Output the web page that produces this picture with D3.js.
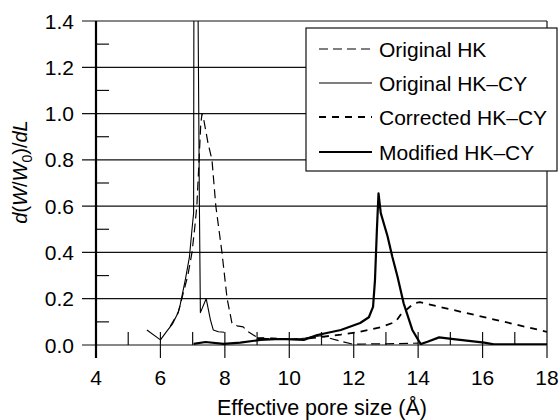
<!DOCTYPE html>
<html>
<head>
<meta charset="utf-8">
<script src="https://d3js.org/d3.v7.min.js"></script>
<style>
body{margin:0;background:#fff;}
text{font-family:"Liberation Sans",Arial,Helvetica,sans-serif;fill:#000;}
path.series{fill:none;stroke:#000;}
</style>
</head>
<body>
<svg class="chart"></svg>
<script>
// data: [pore size (Å), d(W/W0)/dL]
let origHK = [[6.3,0.08],[6.55,0.14],[6.7,0.22],[6.85,0.3],[6.98,0.4],[7.06,0.5],[7.13,0.6],[7.2,0.8],[7.25,0.95],[7.29,1.0],[7.35,0.97],[7.48,0.87],[7.6,0.8],[7.72,0.6],[7.91,0.4],[8.07,0.2],[8.22,0.095],[8.38,0.083],[8.57,0.078],[8.7,0.06],[8.86,0.045],[9.04,0.03],[9.5,0.025],[10.0,0.025],[10.5,0.03],[10.97,0.04],[11.5,0.02],[11.96,0.004],[13,0.005],[14,0.008]]
let origHKCY = [[5.58,0.065],[6.0,0.022],[6.2,0.06],[6.37,0.09],[6.55,0.14],[6.6,0.165],[6.77,0.28],[6.9,0.38],[6.98,0.5],[7.03,0.57],[7.04,1.6],[7.16,1.6],[7.21,0.6],[7.24,0.14],[7.42,0.2],[7.55,0.11],[7.64,0.065],[7.8,0.057],[7.98,0.055]]
let corrHKCY = [[9.0,0.03],[9.5,0.028],[10.0,0.025],[10.35,0.025],[11.0,0.035],[11.6,0.045],[12.2,0.057],[12.84,0.077],[13.3,0.1],[13.45,0.13],[13.87,0.18],[14.05,0.185],[18,0.057]]
let modHKCY = [[7.03,0.005],[7.4,0.013],[7.96,0.005],[8.48,0.01],[9.1,0.022],[9.72,0.026],[10.45,0.022],[10.87,0.043],[11.6,0.065],[12.2,0.095],[12.47,0.12],[12.6,0.165],[12.66,0.28],[12.72,0.5],[12.77,0.655],[12.84,0.57],[13.05,0.47],[13.2,0.38],[13.36,0.295],[13.55,0.18],[13.82,0.065],[14.08,0.004],[14.29,0.014],[14.65,0.033],[15.1,0.025],[16.05,0.01],[16.35,0.003],[18,0.003]]

let seriesNames = ['Original HK','Original HK\u2013CY','Corrected HK\u2013CY','Modified HK\u2013CY']
let xTicks = [4,6,8,10,12,14,16,18]
let yTicks = [0,0.2,0.4,0.6,0.8,1.0,1.2,1.4]

window.onload = function(){
    let w = 560, h = 420
    let svg = d3.select('.chart').attr('width', w).attr('height', h)

    let xScale = d3.scaleLinear().domain([4,18]).range([96,547])
    let yScale = d3.scaleLinear().domain([0,1.4]).range([345,21])

    // clip for the curves
    svg.append('clipPath').attr('id','plotclip').append('rect')
        .attr('x',xScale(4)).attr('y',yScale(1.4))
        .attr('width',xScale(18)-xScale(4)).attr('height',yScale(0)-yScale(1.4))

    // horizontal grid lines (stick out left as major ticks)
    svg.append('g').selectAll('line').data(yTicks).enter().append('line')
        .attr('x1',82).attr('x2',xScale(18))
        .attr('y1',d=>yScale(d)).attr('y2',d=>yScale(d))
        .style('stroke','#111').style('stroke-width',1.2)

    // minor y ticks, inward
    svg.append('g').selectAll('line').data(d3.range(0.1,1.4,0.2)).enter().append('line')
        .attr('x1',xScale(4)).attr('x2',xScale(4)+13)
        .attr('y1',d=>yScale(d)).attr('y2',d=>yScale(d))
        .style('stroke','#111').style('stroke-width',1.2)

    // x ticks: every unit, even ones cross the axis
    svg.append('g').selectAll('line').data(d3.range(5,18,1)).enter().append('line')
        .attr('x1',d=>xScale(d)).attr('x2',d=>xScale(d))
        .attr('y1',yScale(0)-13).attr('y2',d=>d%2==0?yScale(0)+13:yScale(0))
        .style('stroke','#111').style('stroke-width',1.2)

    // left and right axis lines
    svg.append('line').attr('x1',xScale(4)).attr('x2',xScale(4))
        .attr('y1',yScale(1.4)).attr('y2',yScale(0)+13)
        .style('stroke','#000').style('stroke-width',2.2)
    svg.append('line').attr('x1',xScale(18)).attr('x2',xScale(18))
        .attr('y1',yScale(1.4)).attr('y2',yScale(0)+13)
        .style('stroke','#111').style('stroke-width',1.2)

    // tick labels
    svg.append('g').selectAll('text').data(yTicks).enter().append('text')
        .attr('x',74).attr('y',d=>yScale(d)+7.5)
        .attr('text-anchor','end').style('font-size','21px')
        .text(d=>d.toFixed(1))
    svg.append('g').selectAll('text').data(xTicks).enter().append('text')
        .attr('x',d=>xScale(d)).attr('y',385)
        .attr('text-anchor','middle').style('font-size','21px')
        .text(d=>d)

    // axis titles
    svg.append('text').attr('x',322).attr('y',415)
        .attr('text-anchor','middle').style('font-size','21.5px')
        .text('Effective pore size (\u00c5)')

    let yt = svg.append('text').attr('transform','translate(27,172) rotate(-90)')
        .attr('text-anchor','middle').style('font-size','20px')
    yt.append('tspan').style('font-style','italic').text('d')
    yt.append('tspan').text('(')
    yt.append('tspan').style('font-style','italic').text('W')
    yt.append('tspan').text('/')
    yt.append('tspan').style('font-style','italic').text('W')
    yt.append('tspan').attr('dy',5).style('font-size','14px').text('0')
    yt.append('tspan').attr('dy',-5).text(')/')
    yt.append('tspan').style('font-style','italic').text('dL')

    // curves
    let line = d3.line().x(d=>xScale(d[0])).y(d=>yScale(d[1]))
    let styles = [
        {data:origHK, width:1.2, dash:'9,5'},
        {data:origHKCY, width:1.1, dash:null},
        {data:corrHKCY, width:1.8, dash:'7,6'},
        {data:modHKCY, width:2.2, dash:null}
    ]
    let curves = svg.append('g').attr('clip-path','url(#plotclip)')
    styles.forEach(s=>{
        curves.append('path').classed('series',true)
            .attr('d',line(s.data))
            .style('stroke-width',s.width)
            .style('stroke-dasharray',s.dash)
            .style('stroke-linejoin','round')
    })

    // legend
    let lg = svg.append('g')
    lg.append('rect').attr('x',306).attr('y',28).attr('width',251).attr('height',143)
        .style('fill','#fff').style('stroke','#111').style('stroke-width',1.2)
    let rowY = [49,83,117,152]
    styles.forEach((s,i)=>{
        lg.append('line').attr('x1',319).attr('x2',372)
            .attr('y1',rowY[i]).attr('y2',rowY[i])
            .style('stroke','#000').style('stroke-width',s.width)
            .style('stroke-dasharray',s.dash)
        lg.append('text').attr('x',379).attr('y',rowY[i]+7.5)
            .style('font-size','21px').text(seriesNames[i])
    })
}
</script>
</body>
</html>
